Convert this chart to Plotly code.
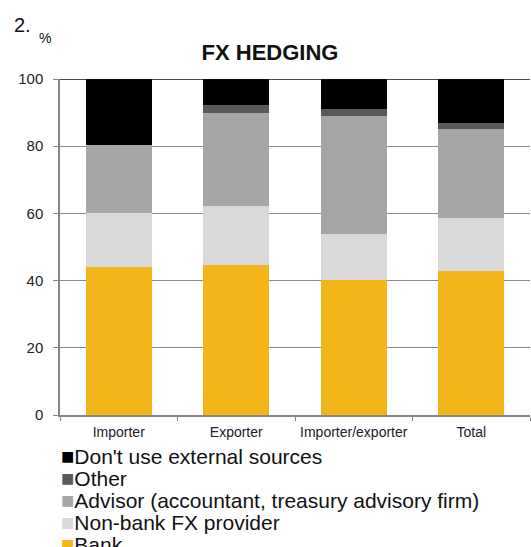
import plotly.graph_objects as go

categories = ["Importer", "Exporter", "Importer/exporter", "Total"]
bank = [44.1, 44.6, 40.3, 42.9]
non_bank = [15.9, 17.7, 13.5, 15.6]
advisor = [20.3, 27.7, 35.2, 26.6]
other = [0.0, 2.3, 2.1, 1.8]
dont_use = [19.7, 7.7, 8.9, 13.1]

series = [
    ("Bank", bank, "#F2B51A"),
    ("Non-bank FX provider", non_bank, "#D9D9D9"),
    ("Advisor (accountant, treasury advisory firm)", advisor, "#A6A6A6"),
    ("Other", other, "#595959"),
    ("Don't use external sources", dont_use, "#000000"),
]
y_ticks = [0, 20, 40, 60, 80, 100]

FONT = "Liberation Sans, Arial, sans-serif"
W, H = 531, 547
ML, MR, MT, MB = 60, 1, 79, 132
PW = W - ML - MR
PH = H - MT - MB

fig = go.Figure()
for name, vals, col in series:
    fig.add_trace(go.Bar(
        x=categories, y=vals, name=name, marker_color=col,
        marker_line_width=0, width=0.565, showlegend=False,
    ))

# legend drawn as text rows (top: last series)
for i, (name, vals, col) in enumerate(reversed(series)):
    fig.add_annotation(
        xref="paper", yref="paper", x=0, y=0, xanchor="left", yanchor="middle",
        xshift=-1, yshift=-(41 + 22 * i),
        text=f"<span style='color:{col};font-size:22px'>■</span>{name}",
        showarrow=False, font=dict(family=FONT, size=21, color="#111111"),
    )

fig.add_annotation(xref="paper", yref="paper", x=(12 - ML) / PW, y=(H - MB - 25) / PH,
                   xanchor="left", yanchor="middle", text="2.", showarrow=False,
                   font=dict(family=FONT, size=20, color="#111111"))
fig.add_annotation(xref="paper", yref="paper", x=(37 - ML) / PW, y=(H - MB - 38) / PH,
                   xanchor="left", yanchor="middle", text="%", showarrow=False,
                   font=dict(family=FONT, size=14, color="#111111"))

fig.add_shape(type="line", xref="paper", yref="y", x0=0, x1=1, y0=100, y1=100,
              line=dict(color="#111111", width=1.5))

fig.update_layout(
    width=W, height=H,
    margin=dict(l=ML, r=MR, t=MT, b=MB, pad=0),
    paper_bgcolor="white", plot_bgcolor="white",
    barmode="stack", bargap=0.435,
    title=dict(text="<b>FX HEDGING</b>", x=270 / W, xanchor="center",
               y=1 - 52 / H, yanchor="middle", yref="container",
               font=dict(family=FONT, size=22, color="#111111")),
    font=dict(family=FONT, color="#111111"),
    showlegend=False,
    xaxis=dict(
        type="category", showgrid=False, showline=True, linecolor="#868686",
        linewidth=1.5, ticks="outside", tickson="boundaries", ticklen=4,
        tickcolor="#868686", tickfont=dict(family=FONT, size=14, color="#222222"),
        ticklabelstandoff=3, range=[-0.5, 3.5],
    ),
    yaxis=dict(
        range=[0, 100], tickvals=y_ticks, showgrid=True, gridcolor="#8A8A8A",
        gridwidth=1, showline=True, linecolor="#868686", linewidth=1.5,
        ticks="outside", ticklen=5, tickcolor="#868686", ticklabelstandoff=7,
        tickfont=dict(family=FONT, size=15, color="#222222"), zeroline=False,
    ),
)

fig.write_html("out.html")
